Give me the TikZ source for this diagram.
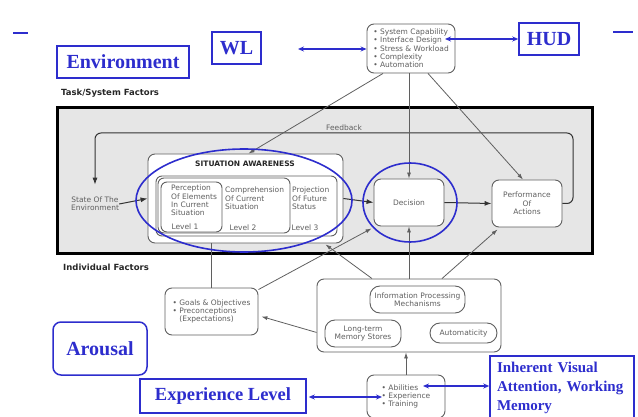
\documentclass[tikz,border=0pt]{standalone}
\usepackage{fontspec}
\setmainfont{Liberation Serif}
\newfontfamily\gothic{DejaVu Sans}
\usetikzlibrary{arrows.meta,calc,shapes.geometric}

\definecolor{slideblue}{RGB}{45,45,205}
\definecolor{inkgray}{RGB}{95,95,95}
\definecolor{panelgray}{RGB}{230,230,230}

\begin{document}
\begin{tikzpicture}[x=1pt,y=-1pt,
    bluebox/.style={draw=slideblue,line width=1.5pt,text=slideblue,inner sep=0pt,
        font=\bfseries\fontsize{20}{22}\selectfont},
    factorbox/.style={draw=inkgray,line width=0.9pt,rounded corners=7pt,fill=white,
        text=inkgray,inner sep=0pt,align=center,font=\gothic\fontsize{7.5}{8.3}\selectfont},
    smalltext/.style={text=inkgray,inner sep=0pt,align=left,font=\gothic\fontsize{7.5}{8.3}\selectfont},
    sectionlabel/.style={text=black!85,inner sep=0pt,font=\gothic\bfseries\fontsize{8.5}{10}\selectfont},
    link/.style={draw=inkgray,line width=0.8pt,-{Latex[length=6pt,width=4pt]}},
    flow/.style={draw=black!80,line width=1pt,-{Latex[length=7pt,width=5pt]}},
    bluearrow/.style={draw=slideblue,line width=1.2pt,{Stealth[length=6pt,width=5pt]}-{Stealth[length=6pt,width=5pt]}},
    ring/.style={draw=slideblue,line width=1.6pt,ellipse,inner sep=0pt}]
    \useasboundingbox (0,0) rectangle (638,417);

    % Slide corner marks
    \draw[slideblue,line width=2pt] (13,33) -- (28,33);
    \draw[slideblue,line width=2pt] (613,32) -- (633,32);

    % Task/system factors
    \node[sectionlabel,anchor=west] (taskLbl) at (61,93) {Task/System Factors};
    \node[factorbox,align=left,minimum width=88pt,minimum height=49pt] (sys) at (411,48.5)
        {• System Capability\\• Interface Design\\• Stress \& Workload\\• Complexity\\• Automation};

    % Grey panel with the core loop
    \draw[line width=3pt,fill=panelgray] (57,108) rectangle (592,254);
    \node[smalltext] (fbLbl) at (344,128) {Feedback};
    \node[smalltext,align=center] (state) at (95,204) {State Of The\\Environment};

    % Situation awareness block
    \node[factorbox,minimum width=195pt,minimum height=89pt] (sa) at (245.5,198.5) {};
    \node[sectionlabel,font=\gothic\bfseries\fontsize{7.5}{9}\selectfont] (saTitle) at (245,164) {SITUATION AWARENESS};
    \node[factorbox,rounded corners=6pt,minimum width=181pt,minimum height=60pt] (level123) at (246.5,206) {};
    \node[factorbox,rounded corners=6pt,minimum width=132pt,minimum height=55pt] (level12) at (224,205.5) {};
    \node[factorbox,rounded corners=6pt,minimum width=61pt,minimum height=50pt] (level1) at (191.5,207) {};
    \node[smalltext,anchor=north west] (percept) at (171,185) {Perception\\Of Elements\\In Current\\Situation};
    \node[smalltext,anchor=north west] (compre) at (225,187) {Comprehension\\Of Current\\Situation};
    \node[smalltext,anchor=north west] (project) at (292,187) {Projection\\Of Future\\Status};
    \node[smalltext] (lvlA) at (185,227) {Level 1};
    \node[smalltext] (lvlB) at (243,228) {Level 2};
    \node[smalltext] (lvlC) at (305,228) {Level 3};

    % Decision and action
    \node[factorbox,minimum width=70pt,minimum height=47pt] (dec) at (409,202.5) {Decision};
    \node[factorbox,minimum width=70pt,minimum height=47pt] (perf) at (527,203.5) {Performance\\Of\\Actions};

    % Main flow and feedback
    \draw[flow] (state.east) -- (sa.west);
    \draw[flow] (sa.east) -- (dec.west);
    \draw[flow] (dec.east) -- (perf.west);
    \draw[flow,rounded corners=6pt,shorten >=12pt] (perf.east) -| (573,133) -| (state.north);

    % Individual factors
    \node[sectionlabel,anchor=west] (indLbl) at (63,267) {Individual Factors};
    \node[factorbox,align=left,minimum width=93pt,minimum height=47pt] (goals) at (211.5,311.5)
        {• Goals \& Objectives\\• Preconceptions\\\hphantom{• }(Expectations)};
    \node[factorbox,minimum width=184pt,minimum height=73pt] (info) at (409,315.5) {};
    \node[factorbox,rounded corners=10pt,minimum width=95pt,minimum height=27pt] (ipm) at (417.5,299.5)
        {Information Processing\\Mechanisms};
    \node[factorbox,rounded corners=10pt,minimum width=76pt,minimum height=27pt] (ltm) at (363,333.5)
        {Long-term\\Memory Stores};
    \node[factorbox,rounded corners=10pt,minimum width=67pt,minimum height=20pt] (auto) at (463.5,333) {Automaticity};
    \node[factorbox,align=left,minimum width=78pt,minimum height=43pt] (abil) at (406,396.5)
        {• Abilities\\• Experience\\• Training};

    % Links from task/system factors
    \draw[link] ($(sys.south)+(-28,0)$) -- ($(sa.north)+(3,0)$);
    \draw[link] (sys.south -| dec.north) -- (dec.north);
    \draw[link] ($(sys.south)+(17,0)$) -- ($(perf.north)+(-4,0)$);

    % Links from individual factors
    \draw[draw=inkgray,line width=0.8pt] (goals.north) -- (goals.north |- sa.south);
    \draw[link] ($(goals.north east)+(0,2)$) -- ($(dec.south west)+(-2,2)$);
    \draw[link] ($(info.south west)+(0,-20)$) -- ($(goals.east)+(3,5)$);
    \draw[link] ($(info.north)+(-37,0)$) -- ($(sa.south east)+(-18,1)$);
    \draw[link] (info.north -| dec.south) -- (dec.south);
    \draw[link] ($(info.north)+(33,0)$) -- ($(perf.south west)+(6,2)$);
    \draw[link] (abil.north) -- (abil.north |- info.south);

    % Blue rings
    \node[ring,minimum width=216pt,minimum height=103pt] (saRing) at (244,200.5) {};
    \node[ring,minimum width=94pt,minimum height=79pt] (decRing) at (410,202.5) {};

    % Blue annotations
    \node[bluebox,minimum width=132pt,minimum height=32pt] (env) at (123,62) {Environment};
    \node[bluebox,minimum width=49pt,minimum height=32pt] (wl) at (236.5,48) {WL};
    \node[bluebox,minimum width=60pt,minimum height=32pt] (hud) at (549,39) {HUD};
    \node[bluebox,rounded corners=8pt,minimum width=94pt,minimum height=53pt] (arousal) at (100,348.5) {Arousal};
    \node[bluebox,minimum width=166pt,minimum height=34pt,font=\bfseries\fontsize{18.5}{20}\selectfont] (exp) at (223,396) {Experience Level};
    \node[bluebox,minimum width=144pt,minimum height=64pt,text width=130pt,inner xsep=7pt,align=left,
        font=\bfseries\fontsize{15}{19}\selectfont] (inh) at (562,388) {Inherent Visual\\Attention, Working\\Memory};

    % Blue double arrows
    \coordinate (wlTip) at (298,49);
    \coordinate (hudTip) at (445,39);
    \coordinate (abilTip) at (423,386);
    \coordinate (expTip) at (382,397);
    \draw[bluearrow] (wlTip) -- (wlTip -| sys.west);
    \draw[bluearrow] (hudTip) -- (hudTip -| hud.west);
    \draw[bluearrow] (abilTip) -- (abilTip -| inh.west);
    \draw[bluearrow] ($(exp.east)+(2,1)$) -- (expTip);
\end{tikzpicture}
\end{document}
